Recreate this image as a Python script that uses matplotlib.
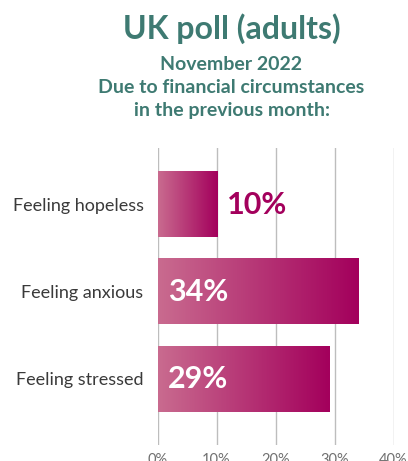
import numpy as np
import matplotlib.pyplot as plt
from matplotlib.colors import LinearSegmentedColormap

plt.rcParams['font.family'] = ['Lato', 'DejaVu Sans']

categories = ['Feeling hopeless', 'Feeling anxious', 'Feeling stressed']
values = [10, 34, 29]
labels = ['10%', '34%', '29%']
ticks = [0, 10, 20, 30, 40]

teal = '#3e7a72'
magenta = '#a3005c'
grad = LinearSegmentedColormap.from_list('grad', ['#c96b8f', '#a3005c'])

fig = plt.figure(figsize=(4.08, 4.61), dpi=100)
ax = fig.add_axes([157.5 / 408, 1 - 445 / 461, 236 / 408, 297 / 461])

h = 0.745
ramp = np.linspace(0, 1, 256)[None, :]
for i, v in enumerate(values):
    ax.imshow(ramp, cmap=grad, aspect='auto', extent=(0, v, i + h / 2, i - h / 2),
              zorder=3, interpolation='bilinear')
    if v < 15:
        ax.annotate(labels[i], (v, i), xytext=(7.5, 0), textcoords='offset points',
                    va='center', ha='left', fontsize=22, fontweight='bold', color=magenta, zorder=4)
    else:
        ax.annotate(labels[i], (0, i), xytext=(7.5, 0), textcoords='offset points',
                    va='center', ha='left', fontsize=22, fontweight='bold', color='white', zorder=4)

ax.set_xlim(0, 40)
ax.set_ylim(2 + 66 / 87.25, -56.5 / 87.25)
ax.set_xticks(ticks)
ax.set_xticklabels([f'{t}%' for t in ticks], fontsize=10.5, color='#707070')
ax.set_yticks(range(len(categories)))
ax.set_yticklabels(categories, fontsize=13, color='#3a3a3a')
ax.tick_params(length=0)
ax.tick_params(axis='y', pad=10)
ax.tick_params(axis='x', pad=6)
for t in ticks:
    ax.axvline(t, color='#bdbdbd', lw=1, zorder=1)
for s in ax.spines.values():
    s.set_visible(False)

fig.text(231.5 / 408, 1 - 39 / 461, 'UK poll (adults)', ha='center', va='baseline',
         fontsize=23, fontweight='bold', color=teal)
fig.text(231.5 / 408, 1 - 70 / 461, 'November 2022', ha='center', va='baseline',
         fontsize=14, fontweight='bold', color=teal)
fig.text(231.5 / 408, 1 - 93 / 461, 'Due to financial circumstances', ha='center', va='baseline',
         fontsize=14, fontweight='bold', color=teal)
fig.text(231.5 / 408, 1 - 116 / 461, 'in the previous month:', ha='center', va='baseline',
         fontsize=14, fontweight='bold', color=teal)

fig.savefig('out.png', dpi=100)
